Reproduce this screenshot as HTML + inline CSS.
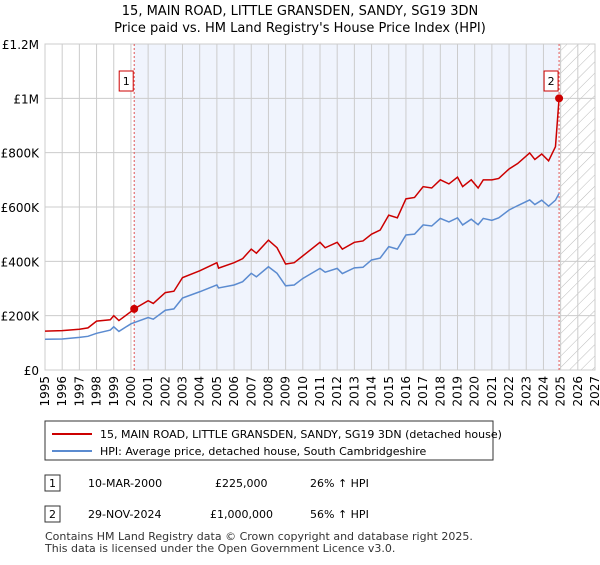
<!DOCTYPE html>
<html><head><meta charset="utf-8"><style>
body{margin:0;background:#fff;font-family:"Liberation Sans","DejaVu Sans",sans-serif;}
svg text{font-family:"DejaVu Sans","Liberation Sans",sans-serif;}
</style></head><body>
<svg id="c" width="600" height="560" viewBox="0 0 600 560" xmlns="http://www.w3.org/2000/svg">
<defs><pattern id="hatch" width="8" height="8" patternUnits="userSpaceOnUse" patternTransform="rotate(45)"><line x1="0" y1="0" x2="0" y2="8" stroke="#bbb" stroke-width="1"/></pattern></defs>
<text x="300" y="15" text-anchor="middle" font-size="13">15, MAIN ROAD, LITTLE GRANSDEN, SANDY, SG19 3DN</text>
<text x="300" y="32" text-anchor="middle" font-size="13">Price paid vs. HM Land Registry's House Price Index (HPI)</text>
<g id="plot"></g>
<rect x="45" y="421" width="448" height="39" fill="#fff" stroke="#333"/>
<line x1="52" y1="434" x2="92" y2="434" stroke="#cc0000" stroke-width="2"/>
<text x="100" y="438" font-size="11">15, MAIN ROAD, LITTLE GRANSDEN, SANDY, SG19 3DN (detached house)</text>
<line x1="52" y1="451" x2="92" y2="451" stroke="#5b8bd0" stroke-width="2"/>
<text x="100" y="455" font-size="11">HPI: Average price, detached house, South Cambridgeshire</text>
<rect x="45" y="475" width="15" height="16" fill="#fff" stroke="#333"/>
<text x="52.5" y="487" font-size="11" text-anchor="middle">1</text>
<text x="88" y="487" font-size="11">10-MAR-2000</text>
<text x="215" y="487" font-size="11">£225,000</text>
<text x="310" y="487" font-size="11">26% ↑ HPI</text>
<rect x="45" y="506" width="15" height="16" fill="#fff" stroke="#333"/>
<text x="52.5" y="518" font-size="11" text-anchor="middle">2</text>
<text x="88" y="518" font-size="11">29-NOV-2024</text>
<text x="210" y="518" font-size="11">£1,000,000</text>
<text x="310" y="518" font-size="11">56% ↑ HPI</text>
<text x="45" y="540" font-size="11" fill="#333">Contains HM Land Registry data © Crown copyright and database right 2025.</text>
<text x="45" y="552" font-size="11" fill="#333">This data is licensed under the Open Government Licence v3.0.</text>
</svg>
<script>
const yearTicks=[1995,1996,1997,1998,1999,2000,2001,2002,2003,2004,2005,2006,2007,2008,2009,2010,2011,2012,2013,2014,2015,2016,2017,2018,2019,2020,2021,2022,2023,2024,2025,2026,2027];
const valueTicks=[0,200000,400000,600000,800000,1000000,1200000];
const valueLabels=["£0","£200K","£400K","£600K","£800K","£1M","£1.2M"];
const hpiDates=[1995,1996,1997,1997.5,1998,1998.8,1999,1999.3,2000,2001,2001.3,2002,2002.5,2003,2004,2005,2005.1,2006,2006.5,2007,2007.3,2008,2008.5,2009,2009.5,2010,2011,2011.3,2012,2012.3,2013,2013.5,2014,2014.5,2015,2015.5,2016,2016.5,2017,2017.5,2018,2018.5,2019,2019.3,2019.8,2020.2,2020.5,2021,2021.4,2022,2022.5,2023.2,2023.5,2023.9,2024.3,2024.7,2024.91];
const hpiValues=[113000,114000,120000,124000,135000,147000,159000,142000,170000,193000,187000,220000,225000,265000,288000,313000,302000,313000,325000,356000,343000,380000,356000,310000,313000,337000,374000,360000,374000,355000,376000,378000,405000,412000,454000,445000,497000,500000,534000,530000,558000,545000,560000,534000,555000,535000,558000,551000,560000,589000,605000,626000,609000,625000,603000,625000,650000];
const priceDates=[1995,1996,1997,1997.5,1998,1998.8,1999,1999.3,2000,2000.19,2001,2001.3,2002,2002.5,2003,2004,2005,2005.1,2006,2006.5,2007,2007.3,2008,2008.5,2009,2009.5,2010,2011,2011.3,2012,2012.3,2013,2013.5,2014,2014.5,2015,2015.5,2016,2016.5,2017,2017.5,2018,2018.5,2019,2019.3,2019.8,2020.2,2020.5,2021,2021.4,2022,2022.5,2023.2,2023.5,2023.9,2024.3,2024.7,2024.91];
const priceValues=[143000,145000,150000,155000,180000,185000,200000,182000,215000,225000,255000,245000,285000,290000,340000,365000,395000,375000,395000,410000,445000,430000,478000,450000,390000,395000,420000,470000,450000,470000,445000,470000,475000,500000,515000,570000,560000,630000,635000,675000,670000,700000,685000,710000,675000,700000,670000,700000,700000,705000,740000,760000,799000,775000,795000,770000,822000,1000000];
const sales=[{d:2000.19,v:225000,n:"1"},{d:2024.91,v:1000000,n:"2"}];
const X0=45,X1=595,Y0=370,Y1=44,NS="http://www.w3.org/2000/svg";
const xs=d=>X0+(d-1995)/(2027-1995)*(X1-X0);
const ys=v=>Y0-v/1200000*(Y0-Y1);
const g=document.getElementById('plot');
function mk(t,a){const e=document.createElementNS(NS,t);for(const k in a)e.setAttribute(k,a[k]);g.appendChild(e);return e;}
let e;
e=mk('rect',{x:xs(2000.19),y:Y1,width:xs(2024.91)-xs(2000.19),height:Y0-Y1,fill:'#f0f4fd'});


e=mk('rect',{x:xs(2024.91),y:Y1,width:X1-xs(2024.91),height:Y0-Y1,fill:'url(#hatch)'});


yearTicks.forEach(y=>{e=mk('line',{x1:xs(y),x2:xs(y),y1:Y1,y2:Y0,stroke:'#ccc'});


e=mk('text',{x:0,y:0,'font-size':12,'text-anchor':'end',transform:`translate(${xs(y)+4},${Y0+6}) rotate(-90)`});e.textContent=y;

});
valueTicks.forEach((v,i)=>{e=mk('line',{x1:X0,x2:X1,y1:ys(v),y2:ys(v),stroke:'#ccc'});


e=mk('text',{x:39,y:ys(v)+5,'font-size':12,'text-anchor':'end'});e.textContent=valueLabels[i];

});
e=mk('rect',{x:X0,y:Y1,width:X1-X0,height:Y0-Y1,fill:'none',stroke:'#ccc'});


sales.forEach(s=>{e=mk('line',{x1:xs(s.d),x2:xs(s.d),y1:Y1,y2:Y0,stroke:'#e05555','stroke-dasharray':'2,2'});

});
e=mk('polyline',{points:hpiDates.map((d,i)=>xs(d)+','+ys(hpiValues[i])).join(' '),fill:'none',stroke:'#5b8bd0','stroke-width':1.5});


e=mk('polyline',{points:priceDates.map((d,i)=>xs(d)+','+ys(priceValues[i])).join(' '),fill:'none',stroke:'#cc0000','stroke-width':1.5});


sales.forEach(s=>{e=mk('circle',{cx:xs(s.d),cy:ys(s.v),r:4,fill:'#cc0000'});


e=mk('rect',{x:xs(s.d)-15,y:71,width:14,height:20,fill:'#fff',stroke:'#cc0000'});


e=mk('text',{x:xs(s.d)-8,y:85,'font-size':11,'text-anchor':'middle'});e.textContent=s.n;

});
</script>
</body></html>
